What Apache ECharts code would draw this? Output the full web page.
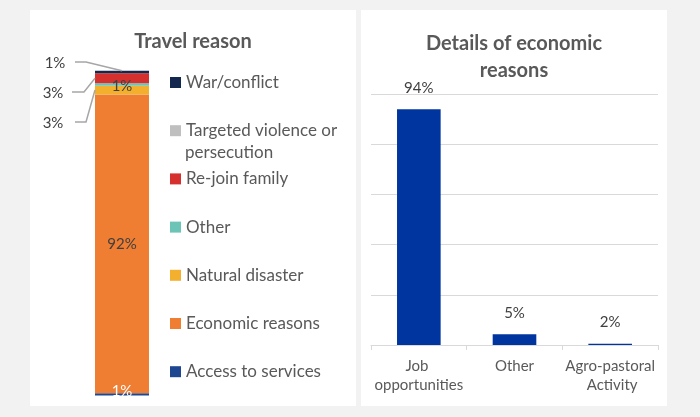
<!DOCTYPE html>
<html><head><meta charset="utf-8">
<script src="https://cdn.jsdelivr.net/npm/echarts@6/dist/echarts.min.js"></script>
<style>html,body{margin:0;padding:0;background:#f2f2f2}#c{width:700px;height:417px}</style>
</head><body><div id="c"></div>
<script>
// ---- data ----
const reasonNames = ['Access to services', 'Economic reasons', 'Natural disaster', 'Other', 'Re-join family', 'Targeted violence or persecution', 'War/conflict'];
const reasonValues = [0.7, 92, 2.7, 0.7, 3.1, 0, 0.8];
const econCategories = ['Job opportunities', 'Other', 'Agro-pastoral Activity'];
const econValues = [94, 4.3, 0.5];
const econLabels = ['94%', '5%', '2%'];

// ---- styles ----
const FONT = 'Lato, "Open Sans", sans-serif';
const reasonColors = ['#1f4690', '#ef7d32', '#f3b02f', '#6cc4b6', '#d6302e', '#bfbfbf', '#14284f'];
const total = reasonValues.reduce((a, b) => a + b, 0);
const pct = p => Math.round(p.value) + '%';

const labelCfg = {
  'Access to services': { show: true, position: 'inside', color: '#ffffff', fontSize: 15, fontFamily: FONT, offset: [0, -3], formatter: pct },
  'Economic reasons': { show: true, position: 'inside', color: '#404040', fontSize: 15, fontFamily: FONT, formatter: pct },
  'Natural disaster': { show: true, position: 'left', color: '#404040', fontSize: 15, fontFamily: FONT, formatter: pct },
  'Other': { show: true, position: 'inside', color: '#404040', fontSize: 15, fontFamily: FONT, offset: [0, 2], formatter: pct },
  'Re-join family': { show: true, position: 'left', color: '#404040', fontSize: 15, fontFamily: FONT, formatter: pct },
  'Targeted violence or persecution': { show: false },
  'War/conflict': { show: true, position: 'left', color: '#404040', fontSize: 15, fontFamily: FONT, formatter: pct }
};
const layoutCfg = {
  'Natural disaster': { x: 53, y: 123, align: 'center', verticalAlign: 'middle' },
  'Re-join family': { x: 53, y: 93, align: 'center', verticalAlign: 'middle' },
  'War/conflict': { x: 55, y: 63, align: 'center', verticalAlign: 'middle' }
};

const chart = echarts.init(document.getElementById('c'), null, { renderer: 'canvas' });

const leftSeries = reasonNames.map((n, i) => {
  const s = {
    type: 'bar', name: n, stack: 'travel', xAxisIndex: 0, yAxisIndex: 0,
    barWidth: '100%', data: [reasonValues[i]],
    itemStyle: { color: reasonColors[i] }, label: labelCfg[n], silent: true
  };
  if (layoutCfg[n]) s.labelLayout = layoutCfg[n];
  return s;
});

chart.setOption({
  backgroundColor: '#f2f2f2',
  animation: false,
  graphic: [
    { id: 'pl', type: 'rect', z: -100, shape: { x: 30, y: 10, width: 326, height: 396 }, style: { fill: '#ffffff' } },
    { id: 'pr', type: 'rect', z: -100, shape: { x: 361, y: 10, width: 306, height: 396 }, style: { fill: '#ffffff' } },
    { id: 'pers', type: 'text', left: 185, top: 144, style: { text: 'persecution', fill: '#595959', font: '17px ' + FONT } }
  ],
  title: [
    { text: 'Travel reason', left: 193, top: 28, textAlign: 'center', padding: 0,
      textStyle: { fontSize: 20, fontWeight: 'bold', color: '#595959', fontFamily: FONT, lineHeight: 27 } },
    { text: 'Details of economic\nreasons', left: 514, top: 30, textAlign: 'center', padding: 0,
      textStyle: { fontSize: 20, fontWeight: 'bold', color: '#595959', fontFamily: FONT, lineHeight: 27 } }
  ],
  legend: {
    orient: 'vertical', left: 170, top: 73.5, padding: 0, itemWidth: 11, itemHeight: 11, itemGap: 30.2, itemTextGap: 4,
    icon: 'rect', selectedMode: false,
    data: reasonNames.slice().reverse(),
    formatter: name => name === 'Targeted violence or persecution' ? 'Targeted violence or' : name,
    textStyle: { color: '#595959', fontSize: 17, fontFamily: FONT, lineHeight: 18 }
  },
  grid: [
    { left: 95, width: 54, top: 70.7, bottom: 417 - 395.5 },
    { left: 371, right: 42, top: 94.3, bottom: 72 }
  ],
  xAxis: [
    { type: 'category', gridIndex: 0, data: ['Travel reason'], show: false },
    { type: 'category', gridIndex: 1, data: econCategories,
      axisLine: { lineStyle: { color: '#d9d9d9', width: 1 } },
      axisTick: { show: true, length: 5, alignWithLabel: false, lineStyle: { color: '#d9d9d9' } },
      axisLabel: { color: '#595959', fontSize: 15, fontFamily: FONT, width: 92, overflow: 'break', lineHeight: 19, margin: 12, interval: 0 } }
  ],
  yAxis: [
    { type: 'value', gridIndex: 0, min: 0, max: total, show: false },
    { type: 'value', gridIndex: 1, min: 0, max: 100, interval: 20,
      axisLabel: { show: false }, axisLine: { show: false }, axisTick: { show: false },
      splitLine: { lineStyle: { color: '#d9d9d9', width: 1 } } }
  ],
  series: leftSeries.concat([{
    type: 'bar', name: 'Details of economic reasons', xAxisIndex: 1, yAxisIndex: 1,
    data: econValues, barWidth: '45.6%', itemStyle: { color: '#0035a0' }, silent: true,
    label: { show: true, position: 'top', distance: 14, color: '#404040', fontSize: 15, fontFamily: FONT,
      formatter: p => econLabels[p.dataIndex] }
  }])
});

// leader lines from outside labels to their segments
const cum = [];
reasonValues.reduce((acc, v, i) => { cum[i] = acc; return acc + v; }, 0);
const px = v => chart.convertToPixel({ gridIndex: 0 }, [0, v]);
const idx = n => reasonNames.indexOf(n);
const warTop = px(total);
const rj = idx('Re-join family'), nd = idx('Natural disaster');
const rjPt = px(cum[rj] + reasonValues[rj] / 2);
const ndPt = px(cum[nd] + reasonValues[nd] / 2);
const halfBar = 27;
const lineStyle = { stroke: '#a6a6a6', lineWidth: 1.5, fill: null };
chart.setOption({
  graphic: [
    { id: 'l1', type: 'polyline', z: 50, shape: { points: [[75, 62], [86, 62], [warTop[0], warTop[1]]] }, style: lineStyle },
    { id: 'l2', type: 'polyline', z: 50, shape: { points: [[72, 92], [84, 92], [rjPt[0] - halfBar, rjPt[1]]] }, style: lineStyle },
    { id: 'l3', type: 'polyline', z: 50, shape: { points: [[75, 122], [86, 122], [ndPt[0] - halfBar, ndPt[1]]] }, style: lineStyle }
  ]
});
</script>
</body></html>
